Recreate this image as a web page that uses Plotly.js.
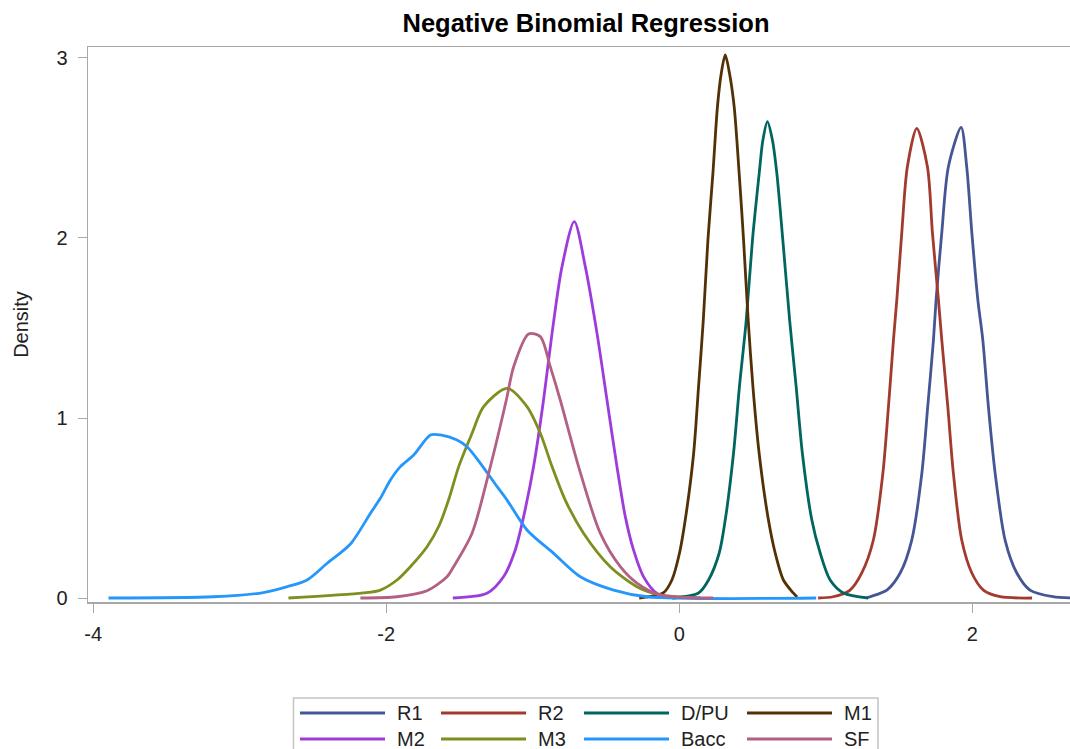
<!DOCTYPE html>
<html>
<head>
<meta charset="utf-8">
<script src="https://cdn.plot.ly/plotly-3.0.1.min.js"></script>
<style>
html,body{margin:0;padding:0;background:#fff;overflow:hidden;}
#chart{width:1070px;height:749px;}
</style>
</head>
<body>
<div id="chart"></div>
<script>
// Series names and colours
var seriesNames = ["R1", "R2", "D/PU", "M1", "M2", "M3", "Bacc", "SF"];
var seriesColors = ["#445694", "#A23A2E", "#01665E", "#543005", "#9D3CDB", "#7F8E1F", "#2597FA", "#B26084"];

// Density curves
var r1X = [1.28, 1.303, 1.417, 1.508, 1.587, 1.656, 1.696, 1.735, 1.753, 1.792, 1.837, 1.924, 1.962, 1.997, 2.038, 2.072, 2.110, 2.156, 2.224, 2.304, 2.394, 2.551, 2.70];
var r1Y = [0, 0.007, 0.044, 0.139, 0.322, 0.694, 1.063, 1.433, 1.656, 2.03, 2.396, 2.615, 2.396, 2.03, 1.656, 1.433, 1.063, 0.694, 0.322, 0.139, 0.044, 0.007, 0];

var r2X = [0.948, 1.050, 1.166, 1.246, 1.325, 1.390, 1.428, 1.462, 1.485, 1.519, 1.557, 1.621, 1.694, 1.728, 1.769, 1.792, 1.833, 1.871, 1.928, 1.997, 2.076, 2.190, 2.408];
var r2Y = [0, 0.007, 0.044, 0.139, 0.322, 0.694, 1.063, 1.433, 1.656, 2.03, 2.396, 2.609, 2.396, 2.03, 1.656, 1.433, 1.063, 0.694, 0.322, 0.139, 0.044, 0.007, 0];

var dpuX = [-0.05, 0.132, 0.200, 0.273, 0.314, 0.370, 0.411, 0.457, 0.500, 0.546, 0.571, 0.602, 0.636, 0.666, 0.707, 0.754, 0.798, 0.841, 0.905, 0.962, 1.030, 1.121, 1.289];
var dpuY = [0, 0.028, 0.10, 0.25, 0.433, 0.80, 1.174, 1.54, 1.99, 2.36, 2.544, 2.646, 2.544, 2.36, 1.99, 1.54, 1.174, 0.80, 0.433, 0.25, 0.10, 0.028, 0];

var m1X = [-0.273, -0.109, -0.050, 0.002, 0.041, 0.098, 0.132, 0.164, 0.196, 0.230, 0.261, 0.287, 0.314, 0.343, 0.375, 0.409, 0.439, 0.471, 0.503, 0.546, 0.609, 0.655, 0.711, 0.778, 0.805];
var m1Y = [0, 0.028, 0.10, 0.25, 0.433, 0.80, 1.174, 1.54, 1.99, 2.36, 2.73, 2.915, 3.017, 2.915, 2.73, 2.36, 1.99, 1.54, 1.174, 0.80, 0.433, 0.25, 0.10, 0.028, 0.005];

var m2X = [-1.545, -1.312, -1.198, -1.119, -1.062, -0.994, -0.926, -0.868, -0.800, -0.716, -0.641, -0.561, -0.493, -0.425, -0.368, -0.312, -0.244, -0.152, -0.02];
var m2Y = [0, 0.026, 0.119, 0.267, 0.452, 0.73, 1.1, 1.47, 1.841, 2.091, 1.841, 1.47, 1.1, 0.73, 0.452, 0.267, 0.119, 0.026, 0];

var m3X = [-2.667, -2.156, -2.040, -1.926, -1.835, -1.721, -1.640, -1.572, -1.505, -1.414, -1.335, -1.175, -1.039, -0.948, -0.868, -0.778, -0.653, -0.471, -0.289, -0.130, 0.143];
var m3Y = [0, 0.028, 0.044, 0.10, 0.174, 0.285, 0.40, 0.55, 0.73, 0.915, 1.063, 1.165, 1.063, 0.915, 0.73, 0.544, 0.36, 0.174, 0.063, 0.017, 0];

var baccX = [-3.895, -3.179, -2.838, -2.674, -2.540, -2.403, -2.244, -2.108, -2.040, -1.971, -1.903, -1.812, -1.698, -1.630, -1.516, -1.448, -1.357, -1.244, -1.175, -1.039, -0.857, -0.675, -0.448, -0.220, 0.935];
var baccY = [0, 0.007, 0.03, 0.063, 0.10, 0.193, 0.30, 0.47, 0.554, 0.656, 0.73, 0.794, 0.906, 0.906, 0.878, 0.84, 0.748, 0.62, 0.544, 0.378, 0.248, 0.118, 0.044, 0.007, 0];

var sfX = [-2.176, -1.926, -1.721, -1.585, -1.540, -1.414, -1.289, -1.180, -1.130, -1.028, -0.948, -0.880, -0.812, -0.687, -0.539, -0.402, -0.289, -0.130, 0.232];
var sfY = [0, 0.007, 0.04, 0.118, 0.174, 0.36, 0.73, 1.1, 1.285, 1.467, 1.452, 1.285, 1.1, 0.73, 0.36, 0.174, 0.083, 0.017, 0];

// Axis ticks
var xTickVals = [-4, -2, 0, 2];
var xTickText = ["-4", "-2", "0", "2"];
var yTickVals = [0, 1, 2, 3];
var yTickText = ["0", "1", "2", "3"];

var allX = [r1X, r2X, dpuX, m1X, m2X, m3X, baccX, sfX];
var allY = [r1Y, r2Y, dpuY, m1Y, m2Y, m3Y, baccY, sfY];

var traces = seriesNames.map(function (name, i) {
  return {
    type: "scatter",
    mode: "lines",
    name: name,
    x: allX[i],
    y: allY[i],
    line: { color: seriesColors[i], width: 2.8, shape: "spline", smoothing: 0.8 },
    hoverinfo: "x+y+name"
  };
});

var fontFam = "'Liberation Sans', Arial, sans-serif";

// Plot-area geometry (pixels) used to place the legend in paper coordinates
var ML = 88, MT = 47, MB = 147, W = 1070, H = 749;
var PW = W - ML, PH = H - MT - MB, PB = H - MB;
function px2x(px) { return (px - ML) / PW; }
function py2y(py) { return (PB - py) / PH; }

// Legend (4 columns x 2 rows, SAS style, long line samples)
var colStart = [300, 441, 584, 747];
var rowY = [713, 739];
var lineLen = 85;
var shapes = [{
  type: "rect", xref: "paper", yref: "paper",
  x0: px2x(293.5), x1: px2x(878), y0: py2y(770), y1: py2y(698),
  line: { color: "#c4c4c4", width: 1.5 }, fillcolor: "rgba(0,0,0,0)"
}];
var annotations = [];
seriesNames.forEach(function (name, i) {
  var c = i % 4, r = Math.floor(i / 4);
  var x0 = colStart[c];
  shapes.push({
    type: "line", xref: "paper", yref: "paper",
    x0: px2x(x0), x1: px2x(x0 + lineLen), y0: py2y(rowY[r]), y1: py2y(rowY[r]),
    line: { color: seriesColors[i], width: 3 }
  });
  annotations.push({
    xref: "paper", yref: "paper",
    x: px2x(x0 + lineLen + 10), y: py2y(rowY[r]),
    xanchor: "left", yanchor: "middle", showarrow: false,
    text: name,
    font: { family: fontFam, size: 20, color: "#222222" }
  });
});

var layout = {
  width: W,
  height: H,
  margin: { l: ML, r: 0, t: MT, b: MB },
  paper_bgcolor: "#ffffff",
  plot_bgcolor: "#ffffff",
  font: { family: fontFam, size: 20, color: "#222222" },
  title: {
    text: "<b>Negative Binomial Regression</b>",
    font: { family: fontFam, size: 25.5, color: "#000000" },
    x: 586 / 1070,
    xanchor: "center",
    xref: "container",
    y: 1 - 23 / 749,
    yanchor: "middle",
    yref: "container"
  },
  xaxis: {
    range: [-4.035, 2.667],
    tickvals: xTickVals,
    ticktext: xTickText,
    ticks: "outside",
    ticklen: 9,
    tickwidth: 1,
    tickcolor: "#a8a8a8",
    showline: true,
    linecolor: "#a8a8a8",
    linewidth: 1.5,
    mirror: true,
    showgrid: false,
    zeroline: false,
    tickfont: { family: fontFam, size: 20, color: "#222222" },
    ticklabelstandoff: 4,
    fixedrange: true
  },
  yaxis: {
    range: [-0.0222, 3.061],
    tickvals: yTickVals,
    ticktext: yTickText,
    ticks: "outside",
    ticklen: 9,
    tickwidth: 1,
    tickcolor: "#a8a8a8",
    showline: true,
    linecolor: "#a8a8a8",
    linewidth: 1.5,
    mirror: false,
    showgrid: false,
    zeroline: false,
    tickfont: { family: fontFam, size: 20, color: "#222222" },
    ticklabelstandoff: 6,
    title: { text: "Density", font: { family: fontFam, size: 20, color: "#222222" }, standoff: 22 },
    fixedrange: true
  },
  showlegend: false,
  shapes: shapes,
  annotations: annotations
};

Plotly.newPlot("chart", traces, layout, { displayModeBar: false, staticPlot: true });
</script>
</body>
</html>
